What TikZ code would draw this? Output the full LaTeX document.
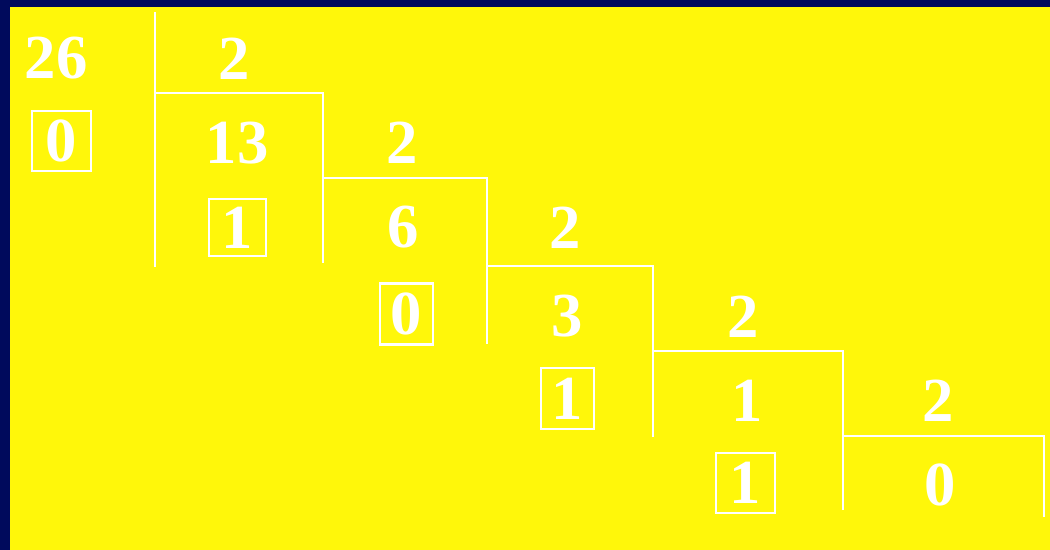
\documentclass[tikz,border=0pt]{standalone}
\usepackage{fontspec}
\setmainfont{Liberation Serif}
\definecolor{bgnavy}{RGB}{0,10,92}
\definecolor{bgyellow}{RGB}{255,247,10}
\begin{document}
\begin{tikzpicture}[x=0.75pt,y=-0.75pt,
  num/.style={text=white,inner sep=0pt,font=\fontsize{47}{47}\bfseries\selectfont},
  rem/.style={num,draw=white,line width=2pt},
  bracket/.style={draw=white,line width=2.1pt}]
\useasboundingbox (0,0) rectangle (1050,550);
\fill[bgnavy] (0,0) rectangle (1050,550);
\fill[bgyellow] (10,7) rectangle (1050,550);
% numbers
\node[num] (n26) at (56,58.5) {26};
\node[num] (d1) at (234,58.5) {2};
\node[rem,minimum width=59*0.75pt,minimum height=60*0.75pt] (r1) at (61.5,141) {0};
\node[num] (n13) at (237,143) {13};
\node[num] (d2) at (402,143) {2};
\node[rem,minimum width=57*0.75pt,minimum height=57*0.75pt] (r2) at (237.5,227.5) {1};
\node[num] (n6) at (403,227.5) {6};
\node[num] (d3) at (565,227.5) {2};
\node[rem,minimum width=53*0.75pt,minimum height=61*0.75pt] (r3) at (406.5,314) {0};
\node[num] (n3) at (567,316.5) {3};
\node[num] (d4) at (743,316.5) {2};
\node[rem,minimum width=53*0.75pt,minimum height=61*0.75pt] (r4) at (567.5,398.5) {1};
\node[num] (n1) at (747,400.5) {1};
\node[num] (d5) at (938,400.5) {2};
\node[rem,minimum width=59*0.75pt,minimum height=60*0.75pt] (r5) at (745.5,483) {1};
\node[num] (n0) at (940,484.5) {0};
% division brackets
\draw[bracket] (155,12) -- (155,267);
\draw[bracket] (155,93) -- (323,93) -- (323,263);
\draw[bracket] (323,178) -- (487,178) -- (487,344);
\draw[bracket] (487,266) -- (653,266) -- (653,437);
\draw[bracket] (653,351) -- (843,351) -- (843,510);
\draw[bracket] (843,436) -- (1044,436) -- (1044,517);
\end{tikzpicture}
\end{document}
